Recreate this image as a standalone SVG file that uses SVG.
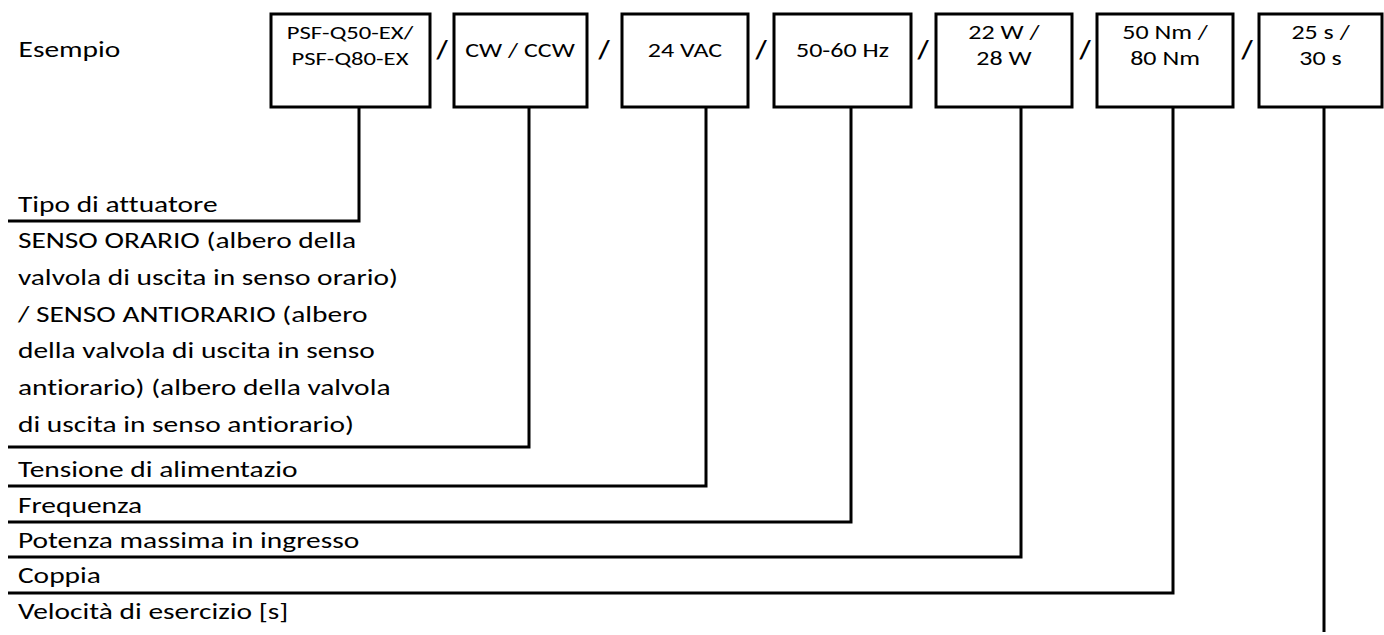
<svg xmlns="http://www.w3.org/2000/svg" width="1384" height="635" viewBox="0 0 1384 635">
<style>
.box{fill:#fff;stroke:#000;stroke-width:3}
.ln{fill:none;stroke:#000;stroke-width:3}
text{font-family:Carlito,"Liberation Sans",sans-serif;fill:#000;font-variant-ligatures:none}
.lbl{font-size:23px}
.bt{font-size:20px;text-anchor:middle}
.bs{font-size:19px;text-anchor:middle}
.sl{font-size:26px;font-weight:bold;text-anchor:middle}
</style>
<rect width="1384" height="635" fill="#fff"/>
<g id="example" transform="scale(1.28,1)"><text class="lbl" x="14.5" y="57">Esempio</text></g>
<g id="n1"><rect class="box" x="271" y="14" width="159" height="93"/><g transform="scale(1.3,1)"><text class="bs" x="269.2" y="39">PSF-Q50-EX/</text><text class="bs" x="269.2" y="65">PSF-Q80-EX</text></g></g>
<g id="n2"><rect class="box" x="454" y="14" width="133" height="93"/><g transform="scale(1.3,1)"><text class="bt" x="400" y="57">CW / CCW</text></g></g>
<g id="n3"><rect class="box" x="622" y="14" width="126" height="93"/><g transform="scale(1.3,1)"><text class="bt" x="526.9" y="57">24 VAC</text></g></g>
<g id="n4"><rect class="box" x="774" y="14" width="137" height="93"/><g transform="scale(1.3,1)"><text class="bt" x="648.1" y="57">50-60 Hz</text></g></g>
<g id="n5"><rect class="box" x="936" y="14" width="136" height="93"/><g transform="scale(1.3,1)"><text class="bt" x="772.3" y="39">22 W /</text><text class="bt" x="772.3" y="65">28 W</text></g></g>
<g id="n6"><rect class="box" x="1097" y="14" width="136" height="93"/><g transform="scale(1.3,1)"><text class="bt" x="896.2" y="39">50 Nm /</text><text class="bt" x="896.2" y="65">80 Nm</text></g></g>
<g id="n7"><rect class="box" x="1259" y="14" width="123" height="93"/><g transform="scale(1.3,1)"><text class="bt" x="1015.8" y="39">25 s /</text><text class="bt" x="1015.8" y="65">30 s</text></g></g>
<g id="seps">
<text class="sl" x="442" y="59">/</text>
<text class="sl" x="604" y="59">/</text>
<text class="sl" x="761" y="59">/</text>
<text class="sl" x="923" y="59">/</text>
<text class="sl" x="1085" y="59">/</text>
<text class="sl" x="1247" y="59">/</text>
</g>
<g id="connectors">
<polyline class="ln" points="359,107 359,221 8,221"/>
<polyline class="ln" points="529,107 529,447 8,447"/>
<polyline class="ln" points="706,107 706,486 8,486"/>
<polyline class="ln" points="851,107 851,522 8,522"/>
<polyline class="ln" points="1021,107 1021,557 8,557"/>
<polyline class="ln" points="1173,107 1173,593 8,593"/>
<polyline class="ln" points="1324,107 1324,632"/>
</g>
<g id="labels" transform="scale(1.28,1)">
<text class="lbl" x="14" y="212">Tipo di attuatore</text>
<text class="lbl" x="14" y="248">SENSO ORARIO (albero della</text>
<text class="lbl" x="14" y="285">valvola di uscita in senso orario)</text>
<text class="lbl" x="14" y="322">/ SENSO ANTIORARIO (albero</text>
<text class="lbl" x="14" y="358">della valvola di uscita in senso</text>
<text class="lbl" x="14" y="395">antiorario) (albero della valvola</text>
<text class="lbl" x="14" y="432">di uscita in senso antiorario)</text>
<text class="lbl" x="14" y="477">Tensione di alimentazio</text>
<text class="lbl" x="14" y="513">Frequenza</text>
<text class="lbl" x="14" y="548">Potenza massima in ingresso</text>
<text class="lbl" x="14" y="583">Coppia</text>
<text class="lbl" x="14" y="619">Velocità di esercizio [s]</text>
</g>
</svg>
